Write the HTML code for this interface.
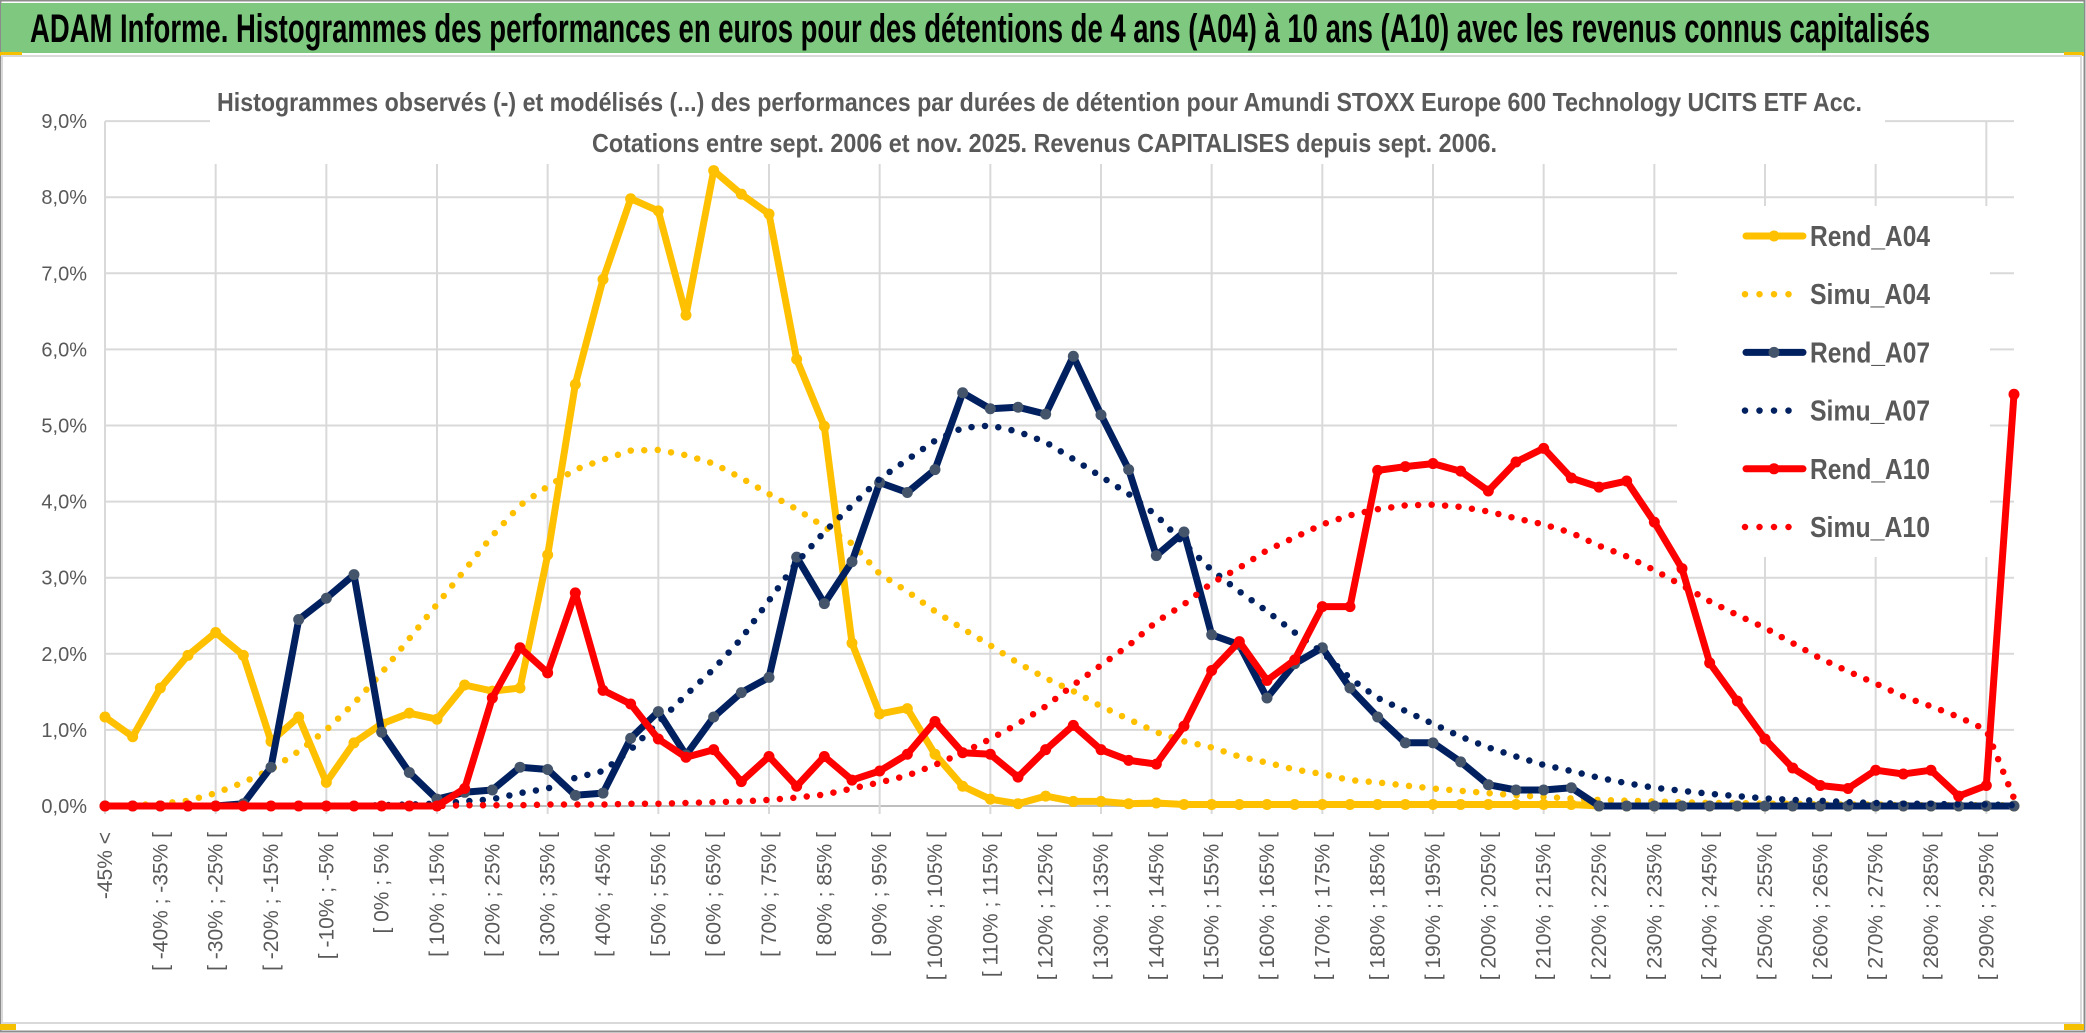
<!DOCTYPE html>
<html><head><meta charset="utf-8">
<style>
html,body{margin:0;padding:0;background:#fff;}
svg{display:block;font-family:"Liberation Sans",sans-serif;}
</style></head>
<body>
<svg id="chart" width="2086" height="1033" viewBox="0 0 2086 1033" xmlns="http://www.w3.org/2000/svg">
  <rect x="0" y="0" width="2086" height="1033" fill="#ffffff"/>
  <rect x="0.5" y="0.5" width="2084" height="1031" fill="none" stroke="#8c8c8c" stroke-width="2"/>
  <rect x="1" y="3" width="2083" height="50" fill="#7ec97f"/>
  <rect x="0" y="52" width="22" height="4" fill="#f5c000"/>
  <rect x="2064" y="52" width="20" height="4" fill="#f5c000"/>
  <rect x="2" y="56" width="2079" height="967" fill="none" stroke="#d9d9d9" stroke-width="2"/>
  <rect x="0" y="1024" width="16" height="6" fill="#f5c000"/>
  <rect x="2064" y="1024" width="20" height="6" fill="#f5c000"/>
  <text x="30" y="42" font-size="40" font-weight="bold" fill="#000" textLength="1900" lengthAdjust="spacingAndGlyphs">ADAM Informe. Histogrammes des performances en euros pour des détentions de 4 ans (A04) à 10 ans (A10) avec les revenus connus capitalisés</text>
  <g id="grid"></g>
  <rect x="210" y="86" width="1675" height="78" fill="#fff"/>
  <text x="217" y="111" font-size="26" font-weight="bold" fill="#595959" textLength="1645" lengthAdjust="spacingAndGlyphs">Histogrammes observés (-) et modélisés (...) des performances par durées de détention pour Amundi STOXX Europe 600 Technology UCITS ETF Acc.</text>
  <text x="592" y="152" font-size="26" font-weight="bold" fill="#595959" textLength="905" lengthAdjust="spacingAndGlyphs">Cotations entre sept. 2006 et nov. 2025. Revenus CAPITALISES depuis sept. 2006.</text>
  <g id="yaxis"></g>
  <g id="xaxis"></g>
  <g id="series"></g>
  <g id="legend"></g>
</svg>
<script>
const yTicks = [0,1,2,3,4,5,6,7,8,9];
const yTickLabels = ["0,0%","1,0%","2,0%","3,0%","4,0%","5,0%","6,0%","7,0%","8,0%","9,0%"];
const binLowerBounds = [-50,-45,-40,-35,-30,-25,-20,-15,-10,-5,0,5,10,15,20,25,30,35,40,45,50,55,60,65,70,75,80,85,90,95,100,105,110,115,120,125,130,135,140,145,150,155,160,165,170,175,180,185,190,195,200,205,210,215,220,225,230,235,240,245,250,255,260,265,270,275,280,285,290,295];
const rendA04 = [1.17,0.91,1.55,1.98,2.28,1.98,0.85,1.17,0.31,0.83,1.08,1.22,1.14,1.59,1.51,1.55,3.3,5.54,
 6.92,7.98,7.82,6.45,8.35,8.04,7.78,5.87,4.99,2.14,1.21,1.28,0.68,0.26,0.09,0.03,0.13,
 0.06,0.06,0.03,0.04,0.02,0.02,0.02,0.02,0.02,0.02,0.02,0.02,0.02,0.02,0.02,0.02,0.02,0.02,0.02,
 0,0,0,0,0,0,0,0,0,0,0,0,0,0,0,0];
const simuA04 = [0,0.01,0.03,0.07,0.17,0.31,0.48,0.72,1.0,1.35,1.75,2.2,2.65,3.1,3.55,3.95,4.2,4.42,4.55,
 4.67,4.68,4.61,4.5,4.31,4.1,3.9,3.67,3.45,3.05,2.82,2.56,2.33,2.11,1.88,1.68,
 1.51,1.31,1.14,0.97,0.85,0.77,0.65,0.57,0.48,0.42,0.34,0.31,0.27,0.23,0.2,0.17,0.14,
 0.12,0.1,0.08,0.07,0.06,0.05,0.04,0.04,0.03,0.03,0.02,0.02,0.02,0.01,0.01,0.01,0.01,0.01];
const rendA07 = [0,0,0,0,0,0.03,
 0.51,2.45,2.73,3.04,0.97,0.44,0.09,0.18,0.21,0.51,0.48,0.14,0.17,
 0.89,1.24,0.67,1.17,1.49,1.69,3.27,2.66,3.21,4.25,4.12,4.42,5.43,5.22,5.24,5.15,
 5.91,5.14,4.42,3.29,3.6,2.25,2.12,1.42,1.87,2.08,1.55,1.17,0.83,0.83,0.58,0.28,0.21,0.21,0.24,
 0,0,0,0,0,0,0,0,0,0,0,0,0,0,0,0];
const simuA07 = [0,0,0,0,0,0,0,0,0,0,0.01,0.02,0.03,0.06,0.09,0.17,0.23,
 0.37,0.46,0.74,1.1,1.46,1.8,2.2,2.7,3.2,3.6,3.95,4.3,4.55,4.8,4.97,5.0,4.92,4.78,
 4.56,4.33,4.1,3.82,3.45,3.1,2.82,2.56,2.28,2.02,1.68,1.42,1.25,1.08,0.91,0.77,0.65,
 0.54,0.46,0.37,0.3,0.24,0.2,0.16,0.13,0.1,0.08,0.07,0.05,0.04,0.03,0.03,0.02,0.02,0.01];
const rendA10 = [0,0,0,0,0,0,0,0,0,0,0,0,0,
 0.23,1.42,2.08,1.75,2.8,1.52,1.34,0.88,0.64,0.74,0.32,0.65,0.26,0.65,0.34,0.46,0.68,1.11,0.70,0.68,0.38,
 0.74,1.06,0.74,0.6,0.55,1.05,1.78,2.16,1.65,1.92,2.62,2.62,4.41,4.46,4.5,4.4,4.14,
 4.52,4.7,4.31,4.19,4.27,3.73,3.12,1.88,1.38,0.88,0.5,0.27,0.23,0.47,0.42,0.47,0.13,0.27,5.41];
const simuA10 = [0,0,0,0,0,0,0,0,0,0,0,0,0,
 0.01,0.01,0.01,0.02,0.02,0.02,0.03,0.03,0.04,0.05,0.06,0.08,
 0.11,0.15,0.23,0.31,0.4,0.54,0.7,0.88,1.08,1.31,1.59,1.85,2.11,2.42,2.65,2.93,3.13,3.36,3.53,3.7,3.82,3.9,3.95,3.96,3.93,3.87,
 3.78,3.7,3.59,3.42,3.28,3.1,2.9,2.69,2.51,2.34,2.14,1.94,1.77,1.61,1.44,1.31,1.17,1.0,0.1];

const NS = "http://www.w3.org/2000/svg";
const X0 = 105, X1 = 2014, Y0 = 806, PX_PER_PCT = 76.1;
const nCat = binLowerBounds.length;
function xPos(i){ return X0 + i * (X1 - X0) / (nCat - 1); }
function yPos(v){ return Y0 - v * PX_PER_PCT; }
function mk(tag, attrs, parent){
  const el = document.createElementNS(NS, tag);
  for (const k in attrs) el.setAttribute(k, attrs[k]);
  parent.appendChild(el);
  return el;
}
function catLabel(i){
  if (i === 0) return "-45% <";
  const lo = binLowerBounds[i];
  return "[ " + lo + "% ; " + (lo + 5) + "% [";
}

const grid = document.getElementById('grid');
yTicks.forEach(function(t){
  const g = mk('line', {x1: X0, x2: X1, y1: yPos(t), y2: yPos(t), stroke: t === 0 ? '#bfbfbf' : '#d9d9d9', 'stroke-width': 2}, grid);
  
  
});
for (let i = 0; i < nCat; i += 4) {
  const g = mk('line', {x1: xPos(i), x2: xPos(i), y1: yPos(9), y2: yPos(0) + 8, stroke: '#d9d9d9', 'stroke-width': 2}, grid);
  
  
}
const lbg = mk('rect', {x: 1677, y: 206, width: 313, height: 351, fill: '#fff'}, grid);



const yaxis = document.getElementById('yaxis');
yTicks.forEach(function(t, k){
  const tx = mk('text', {x: 87, y: yPos(t) + 7, 'font-size': 20, fill: '#595959', 'text-anchor': 'end'}, yaxis);
  tx.textContent = yTickLabels[k];
  
  
});

const xaxis = document.getElementById('xaxis');
for (let i = 0; i < nCat; i += 2) {
  const x = xPos(i) + 7, y = 832;
  const tx = mk('text', {x: x, y: y, 'font-size': 21, fill: '#595959', 'text-anchor': 'end', transform: 'rotate(-90 ' + x + ' ' + y + ')'}, xaxis);
  tx.textContent = catLabel(i);
  
  
}

const seriesG = document.getElementById('series');
function pts(arr){ return arr.map(function(v, i){ return xPos(i).toFixed(1) + ',' + yPos(v).toFixed(1); }).join(' '); }
function drawSolid(arr, color, markColor, name){
  const g = mk('g', {}, seriesG);
  
  
  const pl = mk('polyline', {points: pts(arr), fill: 'none', stroke: color, 'stroke-width': 7, 'stroke-linejoin': 'round', 'stroke-linecap': 'round'}, g);
  
  
  arr.forEach(function(v, i){
    const c = mk('circle', {cx: xPos(i), cy: yPos(v), r: 5.5, fill: markColor}, g);
    
    
  });
}
function drawDotted(arr, color, name){
  const pl = mk('polyline', {points: pts(arr), fill: 'none', stroke: color, 'stroke-width': 6.5, 'stroke-linecap': 'round', 'stroke-linejoin': 'round', 'stroke-dasharray': '0 13.5'}, seriesG);
  
  
}
drawSolid(rendA04, '#ffc000', '#ffc000', 'rend-a04');
drawDotted(simuA04, '#ffc000', 'simu-a04');
drawSolid(rendA07, '#002060', '#44546a', 'rend-a07');
drawDotted(simuA07, '#002060', 'simu-a07');
drawSolid(rendA10, '#ff0000', '#ff0000', 'rend-a10');
drawDotted(simuA10, '#ff0000', 'simu-a10');

const legend = document.getElementById('legend');
const legendNames = ["Rend_A04","Simu_A04","Rend_A07","Simu_A07","Rend_A10","Simu_A10"];
const legendColors = ["#ffc000","#ffc000","#002060","#002060","#ff0000","#ff0000"];
const legendMarks = ["#ffc000",null,"#44546a",null,"#ff0000",null];
legendNames.forEach(function(n, k){
  const y = 236 + k * 58.2;
  const g = mk('g', {}, legend);
  
  
  if (legendMarks[k]) {
    mk('line', {x1: 1746, x2: 1803, y1: y, y2: y, stroke: legendColors[k], 'stroke-width': 7, 'stroke-linecap': 'round'}, g);
    mk('circle', {cx: 1774, cy: y, r: 5.5, fill: legendMarks[k]}, g);
  } else {
    mk('line', {x1: 1745, x2: 1802, y1: y, y2: y, stroke: legendColors[k], 'stroke-width': 6.5, 'stroke-linecap': 'round', 'stroke-dasharray': '0 14.5'}, g);
  }
  const t = mk('text', {x: 1810, y: y + 10, 'font-size': 29, 'font-weight': 'bold', fill: '#595959', textLength: 120, lengthAdjust: 'spacingAndGlyphs'}, g);
  t.textContent = n;
});
</script>
</body></html>
